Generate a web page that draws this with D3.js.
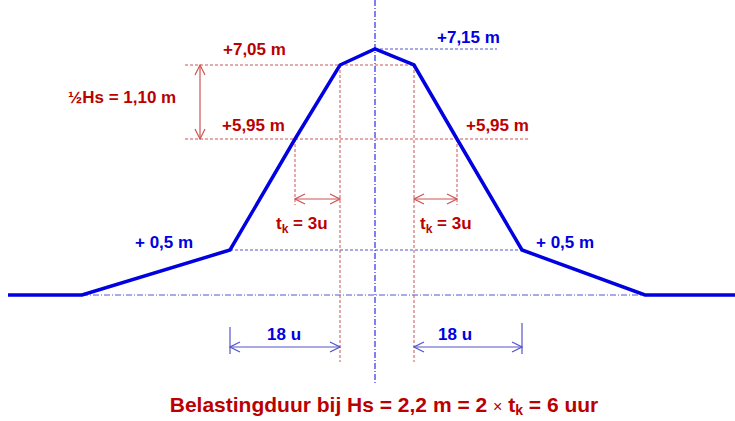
<!DOCTYPE html>
<html>
<head>
<meta charset="utf-8">
<script src="https://cdn.jsdelivr.net/npm/d3@7"></script>
<style>
  body { margin: 0; background: #fff; }
  text { font-family: "Liberation Sans", Arial, sans-serif; font-weight: bold; }
</style>
</head>
<body>
<div id="chart"></div>
<script>
// storm curve: time (hours, 0 = top) and water level (m)
var times  = [-36, -30, -19, -4, -1, 0, 1, 4, 19, 30, 36];
var levels = [0, 0, 0.5, 5.95, 7.05, 7.15, 7.05, 5.95, 0.5, 0, 0];

var tk = 3;        // hours between +5,95 and +7,05
var duration18 = 18;

var width = 735, height = 421;
var red = "#bb0000", redLine = "#cc5555", blue = "#0000e0", blueLine = "#5555cc";

var svg = d3.select("#chart").append("svg")
    .attr("width", width)
    .attr("height", height);

// schematic, not to scale -> piecewise scales
var x = d3.scaleLinear()
    .domain(times)
    .range([8, 82, 230, 295, 340, 375, 414, 457, 522, 645, 735]);

var y = d3.scaleLinear()
    .domain([0, 0.5, 5.95, 7.05, 7.15])
    .range([295, 250, 139, 65, 49]);

var defs = svg.append("defs");
function marker(id, color) {
    defs.append("marker")
        .attr("id", id)
        .attr("viewBox", "-12 -6 13 12")
        .attr("refX", 0).attr("refY", 0)
        .attr("markerWidth", 13).attr("markerHeight", 12)
        .attr("markerUnits", "userSpaceOnUse")
        .attr("orient", "auto-start-reverse")
        .append("path")
        .attr("d", "M-10,-5 L0,0 L-10,5")
        .attr("fill", "none")
        .attr("stroke", color)
        .attr("stroke-width", 1.2);
}
marker("arRed", redLine);
marker("arBlue", blueLine);

function line(x1, y1, x2, y2, color, dash, w) {
    return svg.append("line")
        .attr("x1", x1).attr("y1", y1)
        .attr("x2", x2).attr("y2", y2)
        .attr("stroke", color)
        .attr("stroke-width", w || 1)
        .attr("stroke-dasharray", dash);
}

// guide lines
line(x(times[1]), y(0), x(times[9]), y(0), blueLine, "6,2,1,2");             // base
line(x(times[2]), y(0.5), x(times[8]), y(0.5), blueLine, "3,2");              // +0,5
line(x(0), y(7.15), x(0) + 122, y(7.15), blueLine, "3,2");                   // +7,15
line(x(0), 0, x(0), 385, blue, "6,2,1,2");                                     // axis of symmetry
line(185, y(7.05), x(1) + 1, y(7.05), redLine, "3,2");
line(185, y(5.95), 530, y(5.95), redLine, "3,2");
line(x(-1), y(7.05), x(-1), 362, redLine, "3,2");
line(x(1), y(7.05), x(1), 362, redLine, "3,2");
line(x(-4), y(5.95), x(-4), 205, redLine, "3,2");
line(x(4), y(5.95), x(4), 205, redLine, "3,2");

// ½Hs arrow
line(200, y(7.05), 200, y(5.95), redLine, null, 1.2)
    .attr("marker-start", "url(#arRed)").attr("marker-end", "url(#arRed)");

// tk arrows
line(x(-1 - tk), 199, x(-1), 199, redLine, null, 1.2)
    .attr("marker-start", "url(#arRed)").attr("marker-end", "url(#arRed)");
line(x(1), 199, x(1 + tk), 199, redLine, null, 1.2)
    .attr("marker-start", "url(#arRed)").attr("marker-end", "url(#arRed)");

// 18 u arrows
line(x(-1 - duration18), 347, x(-1), 347, blueLine, null, 1.2)
    .attr("marker-start", "url(#arBlue)").attr("marker-end", "url(#arBlue)");
line(x(-1 - duration18), 327, x(-1 - duration18), 354, blueLine, null, 1.2);
line(x(1), 347, x(1 + duration18), 347, blueLine, null, 1.2)
    .attr("marker-start", "url(#arBlue)").attr("marker-end", "url(#arBlue)");
line(x(1 + duration18), 323, x(1 + duration18), 354, blueLine, null, 1.2);

// the water level curve
var pts = times.map(function (t, i) { return [t, levels[i]]; });
svg.append("path")
    .datum(pts)
    .attr("fill", "none")
    .attr("stroke", blue)
    .attr("stroke-width", 3.5)
    .attr("stroke-linejoin", "miter")
    .attr("d", d3.line().x(d => x(d[0])).y(d => y(d[1])));

// labels
function label(tx, ty, str, color, size, anchor) {
    return svg.append("text")
        .attr("x", tx).attr("y", ty)
        .attr("fill", color)
        .attr("font-size", size || 17)
        .attr("text-anchor", anchor || "start")
        .text(str);
}
label(223, 55, "+7,05 m", red);
label(437, 43, "+7,15 m", blue);
label(68, 103, "½Hs = 1,10 m", red);
label(222, 131, "+5,95 m", red);
label(466, 131, "+5,95 m", red);
label(135, 248, "+ 0,5 m", blue);
label(536, 248, "+ 0,5 m", blue);
label(267, 340, "18 u", blue);
label(438, 340, "18 u", blue);

function tkLabel(tx) {
    var t = label(tx, 229, "t", red);
    t.append("tspan").attr("font-size", 12).attr("dy", 4).text("k");
    t.append("tspan").attr("dy", -4).text(" = " + tk + "u");
}
tkLabel(276);
tkLabel(420);

var title = label(384, 412, "Belastingduur bij Hs = 2,2 m = 2 ", red, 21, "middle");
title.append("tspan").attr("font-weight", "normal").attr("font-size", 16).text("×");
title.append("tspan").text(" t");
title.append("tspan").attr("font-size", 14).attr("dy", 3).text("k");
title.append("tspan").attr("dy", -3).text(" = " + (2 * tk) + " uur");
</script>
</body>
</html>
